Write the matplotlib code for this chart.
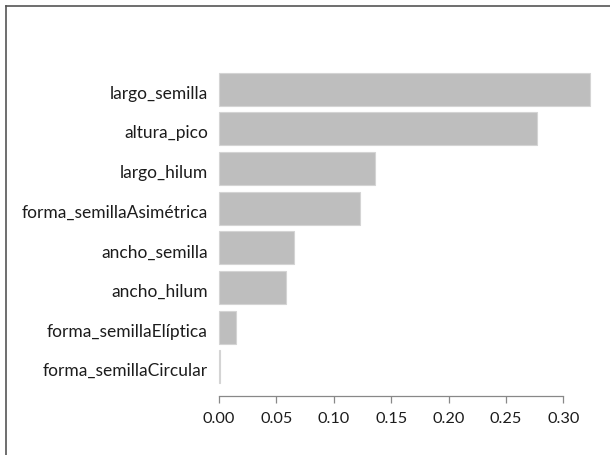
import numpy as np
import matplotlib
matplotlib.use("Agg")
import matplotlib.pyplot as plt
from matplotlib.lines import Line2D

# importancia de variables (de abajo hacia arriba)
variables = ["forma_semillaCircular", "forma_semillaElíptica", "ancho_hilum",
             "ancho_semilla", "forma_semillaAsimétrica", "largo_hilum",
             "altura_pico", "largo_semilla"]
importancia = [0.0005, 0.0151, 0.058, 0.0656, 0.123, 0.136, 0.277, 0.323]
ticks = [0.00, 0.05, 0.10, 0.15, 0.20, 0.25, 0.30]

plt.rcParams['font.family'] = ['Lato', 'DejaVu Sans']

W, H = 610, 455
fig = plt.figure(figsize=(W / 100, H / 100), dpi=100)
# area del grafico en pixeles
izq, der, arriba, abajo = 204.2, 604.6, 60.3, 395.7
ax = fig.add_axes([izq / W, 1 - abajo / H, (der - izq) / W, (abajo - arriba) / H])

# posiciones estilo barplot de R (ancho 1, espacio 0.2)
pos = 0.2 + 0.5 + 1.2 * np.arange(len(variables))
ax.barh(pos, importancia, height=1.0, color="#bebebe", edgecolor="#d4d4d4", linewidth=0.8)

ax.set_ylim(-0.176, 9.976)
ax.set_xlim(-0.0129, 0.336)
ax.set_yticks([])
ax.set_xticks(ticks)
ax.set_xticklabels([])
ax.tick_params(axis="x", length=5, width=0.9, color="#888888")

for s in ["top", "right", "left"]:
    ax.spines[s].set_visible(False)
ax.spines["bottom"].set_bounds(ticks[0], ticks[-1])
ax.spines["bottom"].set_color("#888888")
ax.spines["bottom"].set_linewidth(0.9)

# ajustar tamaño de letra al ancho medido en la referencia
fig.canvas.draw()
r = fig.canvas.get_renderer()
t = fig.text(0, 0, "largo_semilla", fontsize=10)
fs_y = 10 * 98 / t.get_window_extent(r).width
t.set_text("0.00")
fs_x = 10 * 32 / t.get_window_extent(r).width
t.remove()

px_y = (abajo - arriba) / (ax.get_ylim()[1] - ax.get_ylim()[0])
px_x = (der - izq) / (ax.get_xlim()[1] - ax.get_xlim()[0])
x_lab = ax.get_xlim()[0] + (208 - izq) / px_x
for p, v in zip(pos, variables):
    ax.text(x_lab, p - 9.5 / px_y, v, ha="right", va="baseline",
            fontsize=fs_y, color="#1c1c1c", clip_on=False)

tr = ax.get_xaxis_transform()
for tk in ticks:
    ax.text(tk, -(423 - abajo) / (abajo - arriba), f"{tk:.2f}", transform=tr,
            ha="center", va="baseline", fontsize=fs_x, color="#1c1c1c", clip_on=False)

# borde del marco (solo arriba e izquierda)
fig.add_artist(Line2D([5.5 / W, 1], [1 - 5.5 / H, 1 - 5.5 / H], color="#555555", lw=1.2))
fig.add_artist(Line2D([5.5 / W, 5.5 / W], [0, 1 - 5.5 / H], color="#555555", lw=1.2))

fig.savefig("out.png", dpi=100)
